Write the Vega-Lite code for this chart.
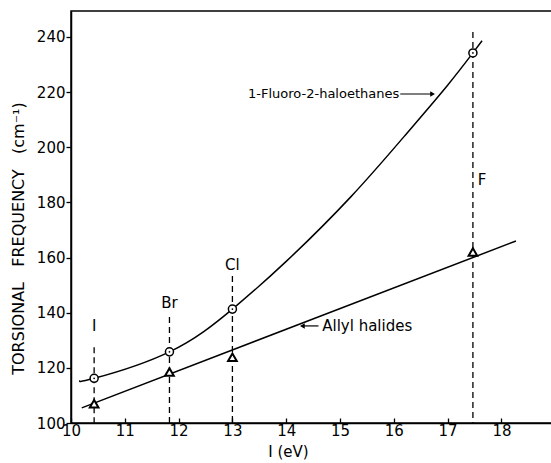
{
  "$schema": "https://vega.github.io/schema/vega-lite/v6.json",
  "autosize": "none",
  "padding": {"left": 71, "top": 11, "right": 0, "bottom": 40},
  "width": 481,
  "height": 412,
  "background": "white",
  "config": {
    "view": {"stroke": "black", "strokeWidth": 1.5},
    "font": "DejaVu Sans",
    "axis": {"grid": false, "domainColor": "black", "domainWidth": 1.5, "tickColor": "black", "tickWidth": 1.3, "labelColor": "black", "titleColor": "black", "labelFont": "DejaVu Sans", "titleFont": "DejaVu Sans", "titleFontWeight": "normal"}
  },
  "datasets": {
    "curve": [
      {"x": 10.17, "y": 115.4}, {"x": 10.43, "y": 116.2}, {"x": 11.83, "y": 125.8},
      {"x": 13.0, "y": 141.3}, {"x": 14.0, "y": 158.6}, {"x": 15.2, "y": 182},
      {"x": 16.24, "y": 205}, {"x": 17.0, "y": 222.5}, {"x": 17.47, "y": 234.2}, {"x": 17.64, "y": 238.6}
    ],
    "allyl": [{"x": 10.2, "y": 105.5}, {"x": 18.27, "y": 166}],
    "circles": [
      {"x": 10.43, "y": 116.2}, {"x": 11.83, "y": 125.8}, {"x": 13.0, "y": 141.3}, {"x": 17.47, "y": 234.2}
    ],
    "triangles": [
      {"x": 10.43, "y": 107}, {"x": 11.83, "y": 118.5}, {"x": 13.0, "y": 123.8}, {"x": 17.47, "y": 162}
    ],
    "drops": [
      {"x": 10.43, "y": 127.5, "y2": 100}, {"x": 11.83, "y": 138.4, "y2": 100},
      {"x": 13.0, "y": 153.3, "y2": 100}, {"x": 17.47, "y": 241.8, "y2": 100}
    ],
    "elements": [
      {"x": 10.43, "y": 135.2, "label": "I"}, {"x": 11.83, "y": 143.5, "label": "Br"},
      {"x": 13.0, "y": 157.3, "label": "Cl"}, {"x": 17.64, "y": 188.1, "label": "F"}
    ],
    "notes": [
      {"x": 13.29, "y": 219.3, "label": "1-Fluoro-2-haloethanes", "size": 13},
      {"x": 14.67, "y": 135.2, "label": "Allyl halides", "size": 15}
    ],
    "arrows": [
      {"x": 16.12, "x2": 16.72, "y": 219.3},
      {"x": 14.3, "x2": 14.6, "y": 135.2}
    ],
    "heads": [
      {"x": 16.72, "y": 219.3, "shape": "triangle-right"},
      {"x": 14.3, "y": 135.2, "shape": "triangle-left"}
    ]
  },
  "encoding": {
    "x": {
      "field": "x", "type": "quantitative",
      "scale": {"domain": [10, 18.94], "nice": false, "zero": false},
      "axis": {"values": [10, 11, 12, 13, 14, 15, 16, 17, 18], "tickSize": -5, "labelPadding": 5, "labelFontSize": 15, "title": "I (eV)", "titleFontSize": 15, "titleX": 217, "titleY": 28, "titleAlign": "center", "titleBaseline": "middle", "labelFlush": false}
    },
    "y": {
      "field": "y", "type": "quantitative",
      "scale": {"domain": [100, 249.4], "nice": false, "zero": false},
      "axis": {"values": [100, 120, 140, 160, 180, 200, 220, 240], "tickSize": 5, "labelPadding": 1, "labelFontSize": 15, "title": "TORSIONAL\u00a0\u00a0\u00a0FREQUENCY\u00a0\u00a0\u00a0(cm⁻¹)", "titleFontSize": 16, "titleX": -53, "titleY": 227, "titleAngle": -90, "titleAlign": "center", "titleBaseline": "middle", "labelFlush": false}
    }
  },
  "layer": [
    {"data": {"name": "curve"}, "mark": {"type": "line", "interpolate": "natural", "color": "black", "strokeWidth": 1.5}},
    {"data": {"name": "allyl"}, "mark": {"type": "line", "color": "black", "strokeWidth": 1.5}},
    {"data": {"name": "drops"}, "mark": {"type": "rule", "color": "black", "strokeWidth": 1.3, "strokeDash": [6, 4]}, "encoding": {"y2": {"field": "y2"}}},
    {"data": {"name": "circles"}, "mark": {"type": "point", "shape": "circle", "size": 65, "filled": true, "fill": "white", "stroke": "black", "strokeWidth": 1.5, "opacity": 1}},
    {"data": {"name": "circles"}, "mark": {"type": "point", "shape": "circle", "size": 3, "filled": true, "color": "black", "opacity": 1}},
    {"data": {"name": "triangles"}, "mark": {"type": "point", "shape": "triangle-up", "size": 75, "filled": true, "fill": "white", "stroke": "black", "strokeWidth": 2, "opacity": 1}},
    {"data": {"name": "elements"}, "mark": {"type": "text", "fontSize": 15, "color": "black", "align": "center", "baseline": "middle"}, "encoding": {"text": {"field": "label"}}},
    {"data": {"name": "notes"}, "mark": {"type": "text", "color": "black", "align": "left", "baseline": "middle"}, "encoding": {"text": {"field": "label"}, "size": {"field": "size", "type": "quantitative", "scale": null}}},
    {"data": {"name": "arrows"}, "mark": {"type": "rule", "color": "black", "strokeWidth": 1.2}, "encoding": {"x2": {"field": "x2"}}},
    {"data": {"name": "heads"}, "mark": {"type": "point", "size": 30, "filled": true, "color": "black", "opacity": 1}, "encoding": {"shape": {"field": "shape", "type": "nominal", "scale": null}}}
  ]
}
